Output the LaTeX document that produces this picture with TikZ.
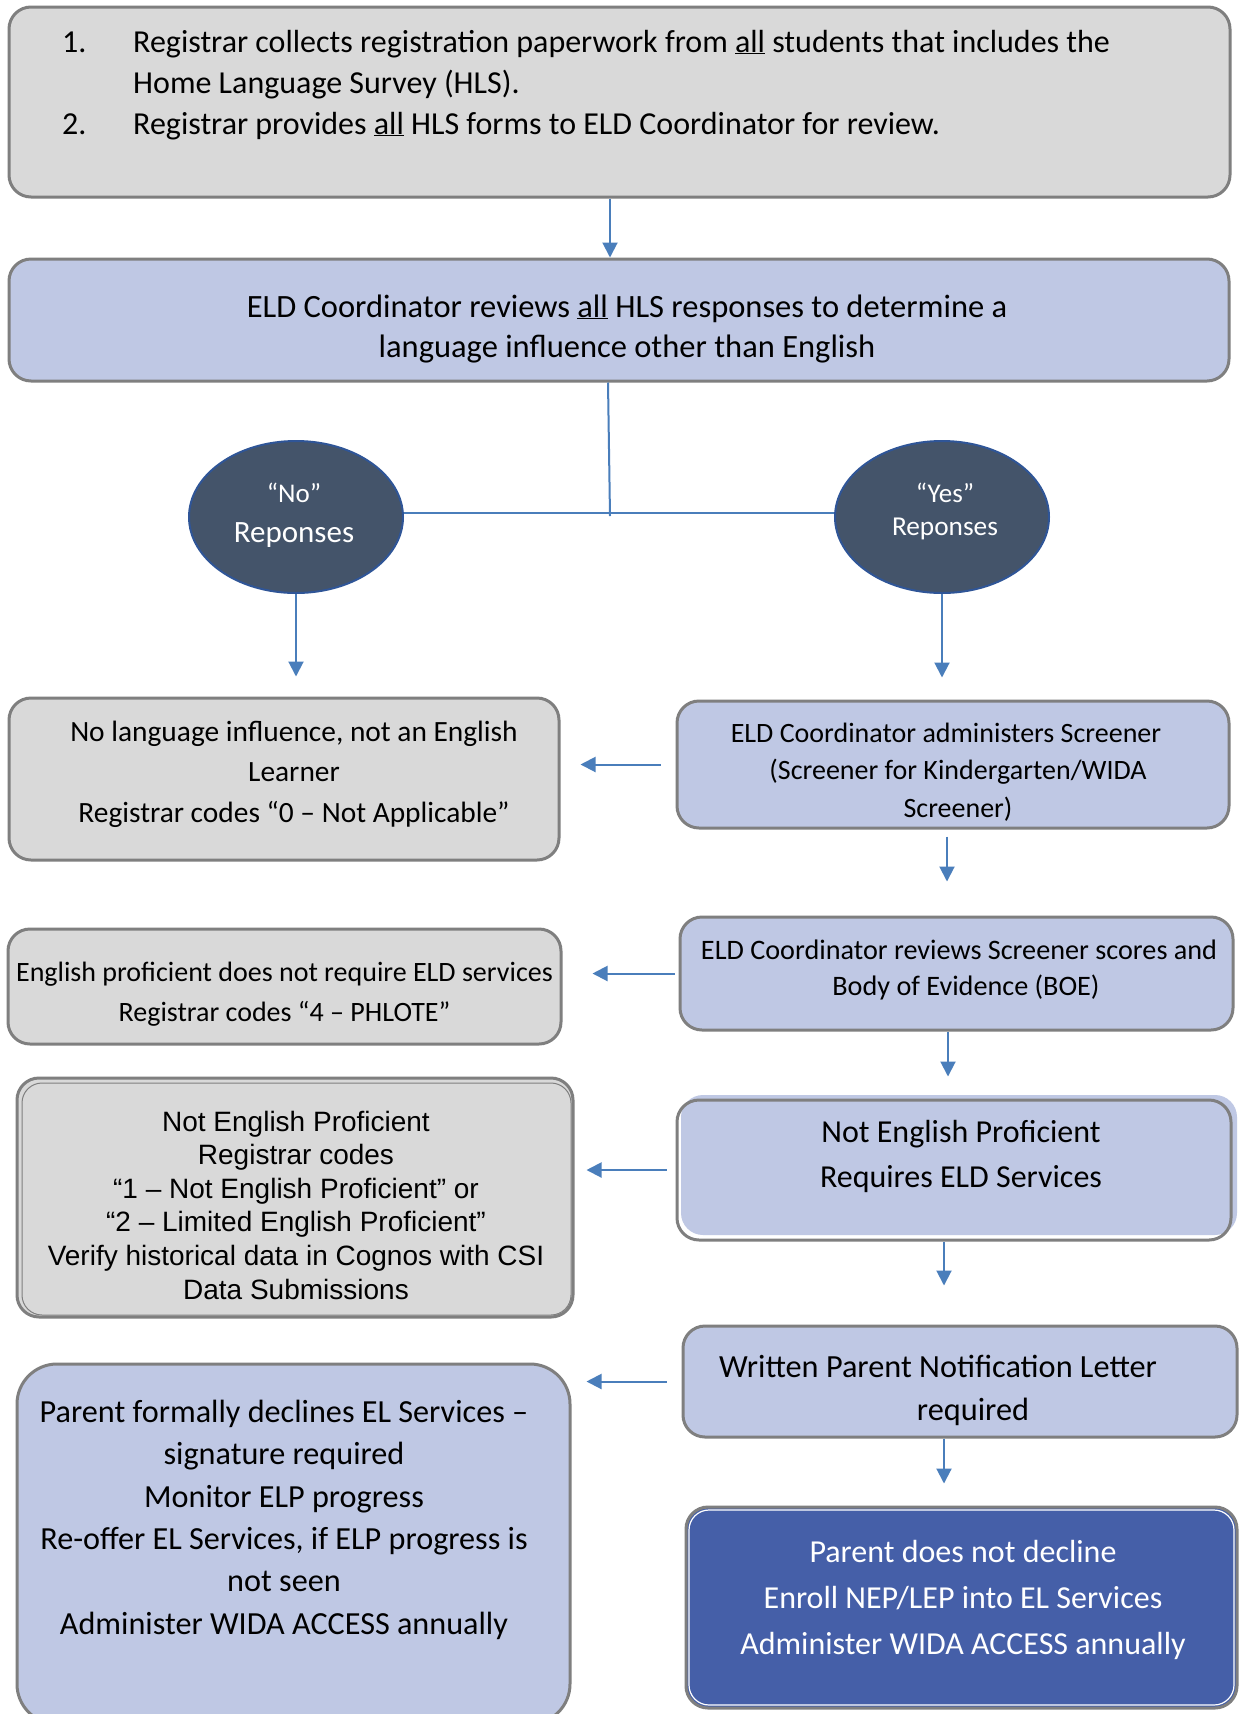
\documentclass[tikz,border=0pt]{standalone}
\usepackage{fontspec}
\setmainfont{Carlito}
\newfontfamily\arialfont{Liberation Sans}
\usetikzlibrary{arrows.meta,shapes.geometric}
\definecolor{gfill}{HTML}{D9D9D9}
\definecolor{gline}{HTML}{7F7F7F}
\definecolor{bfill}{HTML}{BFC8E4}
\definecolor{dfill}{HTML}{455FA8}
\definecolor{efill}{HTML}{44546A}
\definecolor{eline}{HTML}{2F5597}
\definecolor{arrc}{HTML}{4A7EBB}
\newcommand\fsz[2]{\fontsize{#1}{#2}\selectfont}
\begin{document}
\begin{tikzpicture}[x=1pt,y=-1pt,
  box/.style={rectangle, rounded corners=22pt, draw=gline, line width=3pt, inner sep=0pt},
  gbox/.style={box, fill=gfill},
  bbox/.style={box, fill=bfill},
  txt/.style={align=center, inner sep=0pt, anchor=base},
  arr/.style={draw=arrc, line width=2pt, -{Triangle[length=15pt,width=15pt]}},
  conn/.style={draw=arrc, line width=2pt},
  ell/.style={ellipse, fill=efill, draw=eline, line width=2pt, minimum width=214pt, minimum height=152pt, inner sep=0pt},
]
\clip (0,0) rectangle (1239,1714);
\fill[white] (0,0) rectangle (1239,1714);

% boxes
\node[gbox, minimum width=1221pt, minimum height=190pt] (top) at (619.5,102) {};
\node[bbox, minimum width=1220pt, minimum height=122pt] (box2) at (619,320) {};
\node[ell] (no) at (296,517) {};
\node[ell] (yes) at (942,517) {};
\node[gbox, minimum width=550pt, minimum height=162pt] (L1) at (284,779) {};
\node[bbox, minimum width=552pt, minimum height=127pt] (R1) at (953,764.5) {};
\node[gbox, minimum width=553pt, minimum height=115pt] (L2) at (284.5,986.5) {};
\node[bbox, minimum width=553pt, minimum height=113pt] (R2) at (956.5,973.5) {};
\node[gbox, minimum width=556pt, minimum height=239pt] (L3) at (295,1197.5) {};
\draw[gline, line width=1pt, rounded corners=20pt] (22,1083) rectangle (571,1315);
\fill[bfill, rounded corners=22pt] (681,1095) rectangle (1237,1235);
\node[box, minimum width=554pt, minimum height=140pt] (R3) at (954,1170) {};
\node[bbox, minimum width=554pt, minimum height=111pt] (R4) at (960,1381.5) {};
\node[bbox, rounded corners=40pt, minimum width=553pt, minimum height=360pt] (L4) at (293.5,1544) {};
\node[box, fill=dfill, minimum width=551pt, minimum height=201pt] (R5) at (961.5,1607.5) {};
\draw[white, line width=1.2pt, rounded corners=20pt] (689,1510) rectangle (1234,1705);

% texts
\node[inner sep=0pt, anchor=base west, align=left, font=\fsz{32}{41}] (ttop) at (62,134) {%
\makebox[71pt][l]{1.}Registrar collects registration paperwork from \underline{all} students that includes the\\
\hspace*{71pt}Home Language Survey (HLS).\\
\makebox[71pt][l]{2.}Registrar provides \underline{all} HLS forms to ELD Coordinator for review.};
\node[txt, font=\fsz{32.5}{40}] (tbox2) at (627,357) {ELD Coordinator reviews \underline{all} HLS responses to determine a\\language influence other than English};
\node[txt, text=white, font=\fsz{27}{30}] (tno1) at (294,502) {“No”};
\node[txt, text=white, font=\fsz{31}{36}] (tno2) at (294,542) {Reponses};
\node[txt, text=white, font=\fsz{27}{30}] (tyes1) at (945,502) {“Yes”};
\node[txt, text=white, font=\fsz{27.3}{30}] (tyes2) at (945,535) {Reponses};
\node[txt, font=\fsz{29.4}{40.5}] (tL1) at (294,822) {No language influence, not an English\\Learner\\Registrar codes “0 – Not Applicable”};
\node[txt, font=\fsz{28}{37.5}] (tR1) at (958,817) {ELD Coordinator administers Screener\hspace*{24pt}\\(Screener for Kindergarten/WIDA\\Screener)};
\node[txt, font=\fsz{28}{40}] (tL2) at (284.5,1021) {English proficient does not require ELD services\\Registrar codes “4 – PHLOTE”};
\node[txt, font=\fsz{28.2}{36}] (tR2) at (966,995) {ELD Coordinator reviews Screener scores and\hspace*{14pt}\\Body of Evidence (BOE)};
\node[txt, font=\arialfont\fsz{28}{33.6}] (tL3) at (296,1299) {Not English Proficient\\Registrar codes\\“1 – Not English Proficient” or\\“2 – Limited English Proficient”\\Verify historical data in Cognos with CSI\\Data Submissions};
\node[txt, font=\fsz{32}{45}] (tR3) at (961,1187) {Not English Proficient\\Requires ELD Services};
\node[txt, font=\fsz{32.3}{43}] (tR4) at (973,1420) {Written Parent Notification Letter\hspace*{70pt}\\required};
\node[txt, font=\fsz{32.2}{42.3}] (tL4) at (284,1634) {Parent formally declines EL Services –\\signature required\\Monitor ELP progress\\Re-offer EL Services, if ELP progress is\\not seen\\Administer WIDA ACCESS annually};
\node[txt, text=white, font=\fsz{32}{46}] (tR5) at (963,1654) {Parent does not decline\\Enroll NEP/LEP into EL Services\\Administer WIDA ACCESS annually};

% connectors
\coordinate (J) at (610,516);
\draw[arr] ([xshift=-9.5pt]top.south) -- ([xshift=-9pt]box2.north);
\draw[conn] ([xshift=-11pt]box2.south) -- (J);
\draw[conn] ([yshift=4pt]no.east) -- ([yshift=4pt]yes.west);
\draw[arr, shorten >=20pt] (no.south) -- (no.south |- L1.north);
\draw[arr, shorten >=22pt] (yes.south) -- (yes.south |- R1.north);
\draw[arr, shorten <=15pt, shorten >=20pt] (R1.west) -- (R1.west -| L1.east);
\draw[arr, shorten <=7pt, shorten >=34pt] ([xshift=-6pt]R1.south) -- ([xshift=-6pt]R1.south |- R2.north);
\draw[arr, shorten <=4pt, shorten >=30pt] (R2.west) -- (R2.west -| L2.east);
\draw[arr, shorten >=22pt] ([xshift=-8.5pt]R2.south) -- ([xshift=-8.5pt]R2.south |- R3.north);
\draw[arr, shorten <=9pt, shorten >=12pt] (R3.west) -- (R3.west -| L3.east);
\draw[arr, shorten >=39pt] ([xshift=-10pt]R3.south) -- ([xshift=-10pt]R3.south |- R4.north);
\draw[arr, shorten <=15pt, shorten >=15pt] (R4.west) -- (R4.west -| L4.east);
\draw[arr, shorten >=22pt] ([xshift=-16pt]R4.south) -- ([xshift=-16pt]R4.south |- R5.north);
\end{tikzpicture}
\end{document}
